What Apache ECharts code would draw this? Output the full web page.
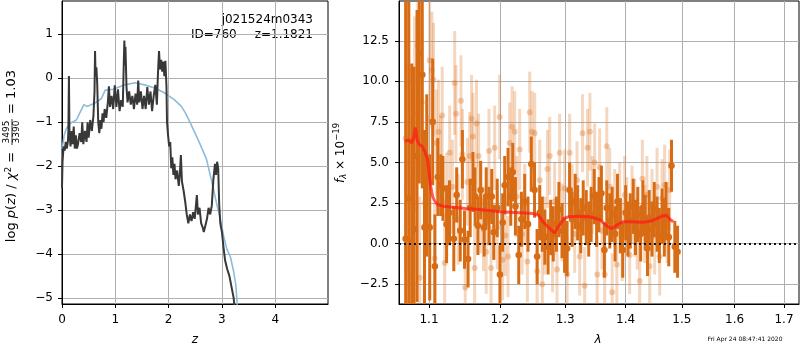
<!DOCTYPE html>
<html>
<head>
<meta charset="utf-8">
<title>zfit</title>
<script src="https://cdn.jsdelivr.net/npm/echarts@6/dist/echarts.min.js"></script>
<style>
  html, body { margin: 0; padding: 0; background: #fff; }
  #chart { width: 800px; height: 350px; }
</style>
</head>
<body>
<div id="chart"></div>
<script>
// ---- left panel: log p(z) ----
const zDark = [0.00,0.01,0.03,0.05,0.07,0.09,0.11,0.12,0.13,0.14,0.16,0.18,0.20,0.22,0.24,0.26,0.28,0.30,0.33,0.36,0.38,0.40,0.43,0.46,0.48,0.50,0.53,0.56,0.59,0.61,0.62,0.63,0.645,0.66,0.68,0.70,0.72,0.74,0.76,0.78,0.80,0.83,0.86,0.88,0.90,0.93,0.96,0.99,1.02,1.05,1.08,1.11,1.14,1.16,1.17,1.18,1.19,1.21,1.23,1.26,1.29,1.32,1.35,1.38,1.41,1.43,1.45,1.48,1.51,1.54,1.57,1.60,1.63,1.66,1.69,1.72,1.75,1.78,1.80,1.82,1.84,1.86,1.88,1.90,1.92,1.94,1.96,1.97,1.99,2.01,2.03,2.05,2.07,2.09,2.11,2.13,2.16,2.19,2.21,2.23,2.25,2.28,2.31,2.34,2.37,2.40,2.43,2.46,2.49,2.53,2.55,2.58,2.61,2.64,2.66,2.69,2.72,2.75,2.78,2.81,2.84,2.87,2.89,2.91,2.93,2.95,2.97,3.00,3.03,3.06,3.10,3.14,3.18,3.22,3.25];
const logpDark = [-2.5,-1.9,-1.55,-1.65,-1.45,-1.6,-1.45,-1.2,0.05,-1.25,-1.55,-1.2,-1.5,-1.1,-1.6,-1.3,-1.6,-1.5,-1.25,-1.45,-1.0,-1.5,-1.2,-1.45,-1.0,-1.35,-0.95,-1.2,-0.85,-0.3,0.62,0.05,0.25,-0.1,-1.0,-1.25,-0.95,-1.15,-0.8,-1.0,-0.7,-0.9,-0.55,-0.18,-0.65,-0.4,-0.7,-0.16,-0.65,-0.25,-0.75,-0.5,-0.65,0.4,0.86,0.3,0.72,-0.2,-0.55,-0.3,-0.6,-0.4,-0.7,-0.35,-0.6,-0.05,-0.55,-0.3,-0.7,-0.4,-0.7,-0.2,-0.6,-0.3,-0.75,-0.4,-0.15,-0.6,0.1,0.62,0.2,0.42,0.15,0.38,0.05,0.4,-0.2,-1.0,-1.3,-1.55,-1.45,-2.05,-1.8,-2.2,-1.95,-2.3,-2.1,-2.45,-2.2,-1.75,-2.35,-2.55,-2.8,-3.1,-3.3,-3.1,-3.25,-3.05,-3.2,-2.66,-3.1,-2.95,-3.3,-3.4,-3.5,-3.35,-3.2,-2.95,-3.1,-2.9,-2.3,-1.95,-2.2,-1.9,-2.05,-2.9,-3.3,-3.5,-3.85,-4.15,-4.35,-4.5,-4.75,-5.0,-5.4];
const zBlue = [0.00,0.02,0.04,0.08,0.15,0.27,0.33,0.41,0.47,0.61,0.74,0.81,0.96,1.18,1.37,1.55,1.74,1.92,2.11,2.24,2.32,2.42,2.59,2.71,2.80,2.90,2.97,3.03,3.09,3.16,3.22,3.26,3.29];
const logpBlue = [-1.6,-1.48,-1.3,-1.15,-1.03,-0.95,-0.8,-0.6,-0.64,-0.57,-0.46,-0.27,-0.25,-0.15,-0.1,-0.15,-0.22,-0.33,-0.49,-0.64,-0.8,-1.05,-1.5,-1.84,-2.3,-2.85,-3.2,-3.58,-3.88,-4.07,-4.4,-4.7,-5.2];
const zTicks = [0, 1, 2, 3, 4];
const logpTicks = [-5, -4, -3, -2, -1, 0, 1];

// ---- right panel: spectrum ----
const darkWave = [1.069,1.073,1.077,1.080,1.084,1.087,1.091,1.094,1.097,1.101,1.105,1.108,1.112,1.116,1.119,1.124,1.128,1.134,1.138,1.143,1.146,1.149,1.154,1.157,1.161,1.164,1.168,1.172,1.177,1.180,1.184,1.188,1.191,1.196,1.200,1.204,1.207,1.212,1.216,1.219,1.223,1.228,1.232,1.237,1.242,1.247,1.252,1.256,1.260,1.264,1.268,1.273,1.277,1.281,1.286,1.290,1.295,1.299,1.303,1.307,1.311,1.316,1.320,1.325,1.329,1.334,1.338,1.342,1.347,1.351,1.355,1.359,1.364,1.368,1.373,1.377,1.382,1.386,1.391,1.395,1.400,1.404,1.408,1.413,1.417,1.421,1.426,1.430,1.434,1.438,1.441,1.446,1.450,1.455,1.459,1.464,1.468,1.471,1.476,1.481,1.487,1.492];
const darkFlux = [0.3,2.8,0.1,0.9,5.4,11.7,10.4,1.0,4.2,1.0,7.5,-1.4,4.1,3.6,3.4,1.2,1.9,0.3,3.0,0.8,5.2,0.25,-0.95,2.2,3.8,2.9,1.1,3.3,1.0,2.9,1.7,2.9,0.7,2.2,-1.9,1.3,3.6,4.1,2.9,4.4,2.3,-0.7,1.5,2.6,1.2,4.9,3.3,-0.8,1.9,1.2,0.4,-0.2,1.0,0.6,1.2,2.1,0.8,-0.1,-0.3,3.3,1.5,2.6,1.9,1.1,2.2,1.6,0.9,1.8,2.9,1.5,2.4,3.1,-0.4,2.2,1.4,1.8,0.6,2.6,1.1,-0.4,1.9,0.9,1.4,2.3,1.0,1.8,0.6,2.2,1.3,-0.3,1.6,0.9,2.1,1.2,0.5,1.7,1.0,2.0,0.4,4.8,-0.2,-0.5];
const darkErr = [15,13,11,10,9,8,7,6,5,4.5,3.9,3.2,2.4,1.9,2.0,2.4,2.0,2.0,1.7,1.9,1.8,1.8,1.75,1.8,1.85,1.8,1.8,1.8,1.8,1.8,1.8,1.7,1.7,1.8,1.8,1.8,1.8,1.8,1.8,1.8,1.8,1.8,1.7,1.7,1.7,1.7,1.7,1.7,1.7,1.7,1.7,1.7,1.7,1.7,1.7,1.7,1.7,1.7,1.7,1.7,1.7,1.7,1.7,1.7,1.7,1.7,1.7,1.7,1.7,1.7,1.7,1.7,1.7,1.7,1.7,1.7,1.7,1.7,1.7,1.7,1.7,1.7,1.7,1.7,1.7,1.7,1.7,1.7,1.7,1.7,1.7,1.7,1.7,1.7,1.7,1.7,1.8,1.8,1.8,1.6,1.6,1.6];
const lightWave = [1.069,1.0734,1.077,1.0809,1.085,1.0875,1.0905,1.0942,1.098,1.1009,1.104,1.106,1.1077,1.110,1.113,1.116,1.118,1.1214,1.124,1.1283,1.132,1.1352,1.137,1.140,1.144,1.146,1.150,1.153,1.1563,1.159,1.161,1.1634,1.166,1.169,1.172,1.176,1.180,1.184,1.187,1.1923,1.196,1.1996,1.204,1.208,1.212,1.2144,1.218,1.2219,1.225,1.2294,1.233,1.237,1.241,1.2446,1.248,1.2522,1.256,1.260,1.264,1.2677,1.272,1.2755,1.280,1.2833,1.287,1.2912,1.295,1.2992,1.303,1.3071,1.311,1.3152,1.319,1.3233,1.328,1.3314,1.336,1.340,1.344,1.3478,1.352,1.3561,1.360,1.3645,1.368,1.3729,1.377,1.3813,1.385,1.3898,1.394,1.3983,1.402,1.4069,1.411,1.4156,1.420,1.4243,1.429,1.4331,1.437,1.4419,1.446,1.4507,1.455,1.4597,1.464,1.4686,1.473,1.4777];
const lightFlux = [6.5,10.6,-2.1,8.0,12.2,-2.1,8.7,2.5,3.9,11.3,10.7,10.1,-0.9,6.2,6.9,4.8,7.9,-1.2,2.6,5.6,3.5,9.9,8.0,1.5,8.8,5.5,-2.7,3.8,5.4,7.7,6.6,-1.5,7.4,5.4,2.0,0.9,-0.5,5.7,-1.5,5.9,1.0,7.8,-1.0,0.5,-0.8,6.2,7.2,6.9,2.9,5.8,0.6,2.4,-1.1,8.1,6.9,6.8,-1.7,3.9,-2.5,0.5,4.6,5.4,-0.6,2.6,-1.6,5.6,1.3,3.4,-1.9,5.6,2.5,0.6,3.9,-0.8,6.8,-2.6,5.9,6.9,3.0,5.0,-1.9,4.7,0.8,-1.9,6.0,3.5,-3.0,2.2,-1.3,2.6,0.1,3.0,1.7,-0.7,2.4,1.6,0.8,-2.3,4.0,1.2,3.0,-1.4,2.2,0.5,3.5,-0.8,2.8,3.6,1.3,3.3];
const lightErr = [8,7,6,6,5.5,5,4.5,4.5,4,3.8,3.6,3.5,3.4,3.3,3.2,3.1,3.0,3.0,3.0,2.9,2.9,3.2,3.0,2.8,2.8,2.8,2.8,2.7,2.7,2.7,2.7,2.7,2.7,2.6,2.6,2.6,2.6,2.6,2.6,2.6,2.6,2.6,2.5,2.5,2.5,2.5,2.5,2.5,2.5,2.5,2.5,2.5,2.5,2.5,2.5,2.5,2.5,2.5,2.4,2.4,2.4,2.4,2.4,2.4,2.4,2.4,2.4,2.4,2.4,2.4,2.4,2.4,2.4,2.4,2.4,2.4,2.4,2.4,2.4,2.4,2.4,2.4,2.4,2.4,2.4,2.4,2.4,2.4,2.4,2.4,2.4,2.4,2.4,2.4,2.4,2.4,2.4,2.4,2.4,2.4,2.4,2.4,2.4,2.4,2.4,2.4,2.4,2.5,2.5,2.5];
const modelWave = [1.068,1.073,1.077,1.080,1.082,1.084,1.087,1.091,1.095,1.098,1.100,1.102,1.105,1.108,1.112,1.120,1.130,1.150,1.170,1.200,1.230,1.250,1.258,1.266,1.275,1.283,1.288,1.292,1.298,1.305,1.320,1.340,1.350,1.357,1.366,1.373,1.378,1.385,1.395,1.410,1.430,1.445,1.455,1.465,1.472,1.478,1.484];
const modelFlux = [6.3,6.4,6.2,6.6,7.15,6.4,6.1,6.0,5.6,5.2,4.5,3.6,2.9,2.6,2.4,2.3,2.25,2.17,2.1,1.97,1.9,1.85,1.75,1.3,0.95,0.66,1.0,1.2,1.55,1.65,1.68,1.65,1.55,1.45,1.15,0.98,0.95,1.15,1.35,1.35,1.32,1.4,1.55,1.7,1.75,1.5,1.35];
const waveTicks = [1.1, 1.2, 1.3, 1.4, 1.5, 1.6, 1.7];
const fluxTicks = [-2.5, 0, 2.5, 5, 7.5, 10, 12.5];

const FONT = 'DejaVu Sans';
const minus = s => String(s).replace('-', '\u2212');

function axisStyle(ticks, fmt, margin) {
    return {
        axisLine: {show: true, onZero: false, lineStyle: {color: '#000', width: 1}},
        axisTick: {show: true, length: 4, customValues: ticks, lineStyle: {color: '#000', width: 1}},
        axisLabel: {customValues: ticks, formatter: fmt, color: '#000', fontFamily: FONT, fontSize: 12, margin: margin},
        splitLine: {show: true, lineStyle: {color: '#b0b0b0', width: 1}}
    };
}

function errorBars(barColor, dotColor, r) {
    return function (params, api) {
        const x = api.value(0), y = api.value(1), e = api.value(2);
        const lo = api.coord([x, y - e]);
        const hi = api.coord([x, y + e]);
        const c = api.coord([x, y]);
        return {
            type: 'group',
            children: [
                {type: 'line', shape: {x1: lo[0], y1: lo[1], x2: hi[0], y2: hi[1]}, style: {stroke: barColor, lineWidth: 3}},
                {type: 'circle', shape: {cx: c[0], cy: c[1], r: r}, style: {fill: dotColor}}
            ]
        };
    };
}

const chart = echarts.init(document.getElementById('chart'));
chart.setOption({
    animation: false,
    grid: [
        {left: 62, top: 1, width: 266, height: 303, show: true, borderColor: '#000', borderWidth: 1},
        {left: 399, top: 1, width: 400, height: 303, show: true, borderColor: '#000', borderWidth: 1}
    ],
    xAxis: [
        Object.assign({type: 'value', gridIndex: 0, min: 0, max: 4.99}, axisStyle(zTicks, v => String(v), 10)),
        Object.assign({type: 'value', gridIndex: 1, min: Math.log(1.0603), max: Math.log(1.7316)},
            axisStyle(waveTicks.map(Math.log), v => Math.exp(v).toFixed(1), 10))
    ],
    yAxis: [
        Object.assign({type: 'value', gridIndex: 0, min: -5.14, max: 1.76}, axisStyle(logpTicks, v => minus(v), 9)),
        Object.assign({type: 'value', gridIndex: 1, min: -3.72, max: 14.95}, axisStyle(fluxTicks, v => minus(v.toFixed(1)), 10))
    ],
    series: [
        {
            type: 'line', xAxisIndex: 0, yAxisIndex: 0, showSymbol: false, silent: true,
            data: zBlue.map((z, i) => [z, logpBlue[i]]),
            lineStyle: {color: '#8dbbdc', width: 1.6}
        },
        {
            type: 'line', xAxisIndex: 0, yAxisIndex: 0, showSymbol: false, silent: true,
            data: zDark.map((z, i) => [z, logpDark[i]]),
            lineStyle: {color: '#383838', width: 2}
        },
        {
            type: 'custom', xAxisIndex: 1, yAxisIndex: 1, clip: true, silent: true,
            encode: {x: 0, y: 1},
            data: lightWave.map((w, i) => [Math.log(w), lightFlux[i], lightErr[i]]),
            renderItem: errorBars('rgba(222,118,40,0.3)', 'rgba(222,118,40,0.35)', 3)
        },
        {
            type: 'custom', xAxisIndex: 1, yAxisIndex: 1, clip: true, silent: true,
            encode: {x: 0, y: 1},
            data: darkWave.map((w, i) => [Math.log(w), darkFlux[i], darkErr[i]]),
            renderItem: errorBars('#d86c14', '#d86c14', 3.3)
        },
        {
            type: 'line', xAxisIndex: 1, yAxisIndex: 1, showSymbol: false, silent: true,
            data: modelWave.map((w, i) => [Math.log(w), modelFlux[i]]),
            lineStyle: {color: 'rgba(255,25,25,0.72)', width: 3},
            markLine: {
                silent: true, symbol: 'none', label: {show: false},
                lineStyle: {color: '#111', width: 2, type: [2, 3]},
                data: [{yAxis: 0}]
            }
        }
    ],
    graphic: [
        {type: 'text', style: {text: 'j021524m0343', x: 313, y: 20, align: 'right', verticalAlign: 'middle', fill: '#000', fontFamily: FONT, fontSize: 12}},
        {type: 'text', style: {text: 'ID=760', x: 191, y: 34.5, align: 'left', verticalAlign: 'middle', fill: '#000', fontFamily: FONT, fontSize: 12}},
        {type: 'text', style: {text: 'z=1.1821', x: 313, y: 34.5, align: 'right', verticalAlign: 'middle', fill: '#000', fontFamily: FONT, fontSize: 12}},
        {type: 'text', style: {text: 'z', x: 195, y: 340, align: 'center', verticalAlign: 'middle', fill: '#000', fontFamily: FONT, fontSize: 12, fontStyle: 'italic'}},
        {type: 'text', style: {text: 'λ', x: 598, y: 340, align: 'center', verticalAlign: 'middle', fill: '#000', fontFamily: FONT, fontSize: 12, fontStyle: 'italic'}},
        {type: 'text', style: {text: 'Fri Apr 24 08:47:41 2020', x: 745, y: 339, align: 'center', verticalAlign: 'middle', fill: '#000', fontFamily: FONT, fontSize: 6}},
        {
            type: 'group', x: 12, y: 0, rotation: Math.PI / 2,
            children: [
                {type: 'text', style: {
                    text: '{n|log }{i|p}{n|(}{i|z}{n|) / }{i|χ}{p|2}{n| =}',
                    x: -197, y: 0, align: 'center', verticalAlign: 'middle', fill: '#000',
                    rich: {
                        n: {fontFamily: FONT, fontSize: 13, fill: '#000'},
                        i: {fontFamily: FONT, fontSize: 13, fontStyle: 'italic', fill: '#000'},
                        p: {fontFamily: FONT, fontSize: 9, padding: [0, 0, 7, 0], fill: '#000'}
                    }
                }},
                {type: 'text', style: {text: '3495', x: -132, y: -5, align: 'center', verticalAlign: 'middle', fill: '#000', fontFamily: FONT, fontSize: 9}},
                {type: 'line', shape: {x1: -145, y1: 0, x2: -119, y2: 0}, style: {stroke: '#000', lineWidth: 0.8}},
                {type: 'text', style: {text: '3390', x: -132, y: 5, align: 'center', verticalAlign: 'middle', fill: '#000', fontFamily: FONT, fontSize: 9}},
                {type: 'text', style: {text: '= 1.03', x: -92, y: 0, align: 'center', verticalAlign: 'middle', fill: '#000', fontFamily: FONT, fontSize: 13}}
            ]
        },
        {
            type: 'group', x: 341, y: 0, rotation: Math.PI / 2,
            children: [
                {type: 'text', style: {
                    text: '{i|f}{s|λ}{n| × 10}{p|−19}',
                    x: -153, y: 0, align: 'center', verticalAlign: 'middle', fill: '#000',
                    rich: {
                        n: {fontFamily: FONT, fontSize: 12, fill: '#000'},
                        i: {fontFamily: FONT, fontSize: 12, fontStyle: 'italic', fill: '#000'},
                        s: {fontFamily: FONT, fontSize: 8.5, fontStyle: 'italic', padding: [6, 0, 0, 0], fill: '#000'},
                        p: {fontFamily: FONT, fontSize: 8.5, padding: [0, 0, 8, 0], fill: '#000'}
                    }
                }}
            ]
        }
    ]
});
</script>
</body>
</html>
